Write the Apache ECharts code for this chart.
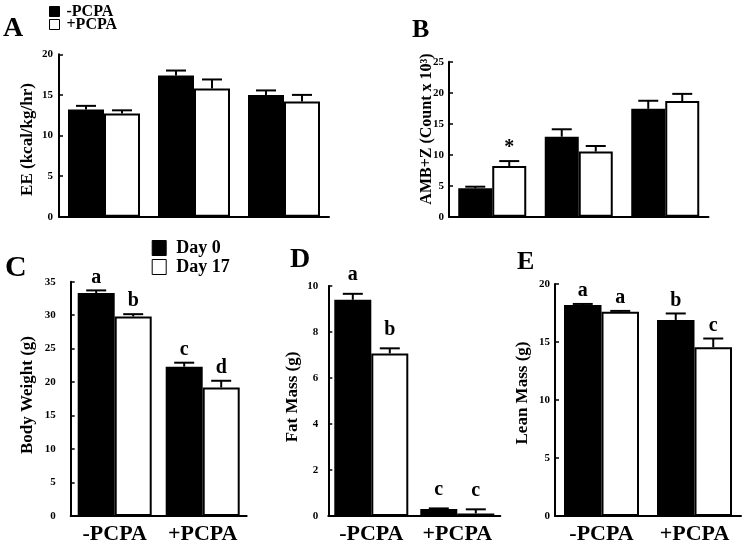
<!DOCTYPE html>
<html>
<head>
<meta charset="utf-8">
<script src="https://cdn.jsdelivr.net/npm/echarts@6/dist/echarts.min.js"></script>
<style>
html,body{margin:0;padding:0;background:#fff;}
#chart{width:745px;height:545px;}
</style>
</head>
<body>
<div id="chart"></div>
<script>
// ---------- data ----------
const groupsAB = ['Group 1', 'Group 2', 'Group 3'];
const seriesAB = ['-PCPA', '+PCPA'];
const groupsCDE = ['-PCPA', '+PCPA'];
const seriesCDE = ['Day 0', 'Day 17'];

// A: EE (kcal/kg/hr)
const eeNeg = [13.2, 17.4, 15.0];
const eePos = [12.7, 15.8, 14.2];
const eeNegErr = [0.45, 0.6, 0.55];
const eePosErr = [0.4, 1.1, 0.8];

// B: AMB+Z (Count x 10^3)
const ambNeg = [4.57, 12.9, 17.4];
const ambPos = [8.17, 10.5, 18.66];
const ambNegErr = [0.27, 1.2, 1.3];
const ambPosErr = [0.8, 0.9, 1.15];
const ambNegMarks = ['', '', ''];
const ambPosMarks = ['*', '', ''];

// C: Body weight (g)
const bwDay0 = [33.3, 22.3];
const bwDay17 = [29.8, 19.2];
const bwDay0Err = [0.4, 0.6];
const bwDay17Err = [0.35, 1.0];
const bwDay0Letters = ['a', 'c'];
const bwDay17Letters = ['b', 'd'];

// D: Fat mass (g)
const fatDay0 = [9.4, 0.3];
const fatDay17 = [7.07, 0.11];
const fatDay0Err = [0.26, 0.03];
const fatDay17Err = [0.22, 0.18];
const fatDay0Letters = ['a', 'c'];
const fatDay17Letters = ['b', 'c'];

// E: Lean mass (g)
const leanDay0 = [18.19, 16.9];
const leanDay17 = [17.6, 14.55];
const leanDay0Err = [0.09, 0.56];
const leanDay17Err = [0.08, 0.75];
const leanDay0Letters = ['a', 'b'];
const leanDay17Letters = ['a', 'c'];

// y-axis settings: [min, max, interval]
const yA = [0, 20, 5];
const yB = [0, 25, 5];
const yC = [0, 35, 5];
const yD = [0, 10, 2];
const yE = [0, 20, 5];

// ---------- helpers ----------
const SERIF = '"Liberation Serif", "DejaVu Serif", serif';

const grids = [
  {left: 59, top: 54.3, width: 270, height: 162.4},
  {left: 449, top: 61.7, width: 259.5, height: 155},
  {left: 70.7, top: 281.7, width: 176, height: 235},
  {left: 328.3, top: 286, width: 172, height: 233.3},
  {left: 555, top: 284, width: 186, height: 236}
];
const barWidths = [36, 34, 37, 37, 37.5];
const letterGaps = [3, 3, 3, 9, 3];
const tickLabelMargins = [6, 5, 15, 10, 5];

function xAxisFor(gi, cats, showLabels) {
  return {
    type: 'category', gridIndex: gi, data: cats,
    axisLine: {lineStyle: {color: '#000', width: 2}},
    axisTick: {show: false},
    axisLabel: {show: showLabels, interval: 0, hideOverlap: false, color: '#000',
      fontFamily: SERIF, fontWeight: 'bold', fontSize: 22, margin: 7}
  };
}
function yAxisFor(gi, cfg) {
  return {
    type: 'value', gridIndex: gi, min: cfg[0], max: cfg[1], interval: cfg[2],
    axisLine: {show: true, lineStyle: {color: '#000', width: 2}},
    axisTick: {show: true, inside: true, length: 4, lineStyle: {color: '#000', width: 1.5}},
    splitLine: {show: false},
    axisLabel: {color: '#000', fontFamily: SERIF, fontWeight: 'bold', fontSize: 11, margin: tickLabelMargins[gi]}
  };
}
function barSeries(gi, name, values, fill) {
  return {
    type: 'bar', name: name, xAxisIndex: gi, yAxisIndex: gi, data: values,
    barWidth: barWidths[gi], barGap: '0%',
    itemStyle: {color: fill, borderColor: '#000', borderWidth: 2},
    emphasis: {disabled: true}, animation: false
  };
}
function errSeries(gi, values, errs, marks, side) {
  const bw = barWidths[gi];
  const gap = letterGaps[gi];
  return {
    type: 'custom', xAxisIndex: gi, yAxisIndex: gi,
    data: values.map((v, i) => [i, v, errs[i]]),
    encode: {x: 0, y: 1},
    silent: true, animation: false, z: 5,
    renderItem: function (params, api) {
      const i = api.value(0), v = api.value(1), e = api.value(2);
      const p0 = api.coord([i, v]);
      const p1 = api.coord([i, v + e]);
      const x = p0[0] + side * bw / 2;
      const cap = 20;
      const children = [
        {type: 'line', shape: {x1: x, y1: p0[1], x2: x, y2: p1[1]}, style: {stroke: '#000', lineWidth: 2}},
        {type: 'line', shape: {x1: x - cap / 2, y1: p1[1], x2: x + cap / 2, y2: p1[1]}, style: {stroke: '#000', lineWidth: 2}}
      ];
      const m = marks ? marks[params.dataIndex] : '';
      if (m) {
        children.push({type: 'text', x: x, y: p1[1] - gap,
          style: {text: m, fill: '#000', font: 'bold 20px ' + SERIF, align: 'center', verticalAlign: 'bottom'}});
      }
      return {type: 'group', children: children};
    }
  };
}
function label(text, x, y, size, rot) {
  return {type: 'text', x: x, y: y, rotation: rot || 0, silent: true,
    style: {text: text, fill: '#000', font: 'bold ' + size + 'px ' + SERIF,
      align: rot ? 'center' : 'left', verticalAlign: 'middle'}};
}

const option = {
  backgroundColor: '#fff',
  animation: false,
  grid: grids,
  xAxis: [
    xAxisFor(0, groupsAB, false),
    xAxisFor(1, groupsAB, false),
    xAxisFor(2, groupsCDE, true),
    xAxisFor(3, groupsCDE, true),
    xAxisFor(4, groupsCDE, true)
  ],
  yAxis: [yAxisFor(0, yA), yAxisFor(1, yB), yAxisFor(2, yC), yAxisFor(3, yD), yAxisFor(4, yE)],
  legend: [
    {data: seriesAB, orient: 'vertical', left: 49, top: 3.5, padding: 0, itemWidth: 10, itemHeight: 10, itemGap: -3,
     selectedMode: false, icon: 'rect',
     itemStyle: {borderColor: '#000', borderWidth: 1},
     textStyle: {color: '#000', fontFamily: SERIF, fontWeight: 'bold', fontSize: 16, padding: [0, 0, 0, 2]}},
    {data: seriesCDE, orient: 'vertical', left: 151.7, top: 239, padding: 0, itemWidth: 14, itemHeight: 15, itemGap: 1,
     selectedMode: false, icon: 'rect',
     itemStyle: {borderColor: '#000', borderWidth: 1},
     textStyle: {color: '#000', fontFamily: SERIF, fontWeight: 'bold', fontSize: 18, padding: [0, 0, 0, 5]}}
  ],
  graphic: [
    label('A', 3, 29, 28),
    label('B', 412, 30, 26),
    label('C', 5, 268, 30),
    label('D', 290, 260, 28),
    label('E', 517, 262, 26),
    label('EE (kcal/kg/hr)', 28, 139.5, 17, Math.PI / 2),
    label('AMB+Z (Count x 10³)', 427, 129, 16, Math.PI / 2),
    label('Body Weight (g)', 28, 395, 17, Math.PI / 2),
    label('Fat Mass (g)', 293, 397, 17, Math.PI / 2),
    label('Lean Mass (g)', 523, 393, 17, Math.PI / 2)
  ],
  series: [
    barSeries(0, seriesAB[0], eeNeg, '#000'),
    barSeries(0, seriesAB[1], eePos, '#fff'),
    errSeries(0, eeNeg, eeNegErr, null, -1),
    errSeries(0, eePos, eePosErr, null, 1),

    barSeries(1, seriesAB[0], ambNeg, '#000'),
    barSeries(1, seriesAB[1], ambPos, '#fff'),
    errSeries(1, ambNeg, ambNegErr, ambNegMarks, -1),
    errSeries(1, ambPos, ambPosErr, ambPosMarks, 1),

    barSeries(2, seriesCDE[0], bwDay0, '#000'),
    barSeries(2, seriesCDE[1], bwDay17, '#fff'),
    errSeries(2, bwDay0, bwDay0Err, bwDay0Letters, -1),
    errSeries(2, bwDay17, bwDay17Err, bwDay17Letters, 1),

    barSeries(3, seriesCDE[0], fatDay0, '#000'),
    barSeries(3, seriesCDE[1], fatDay17, '#fff'),
    errSeries(3, fatDay0, fatDay0Err, fatDay0Letters, -1),
    errSeries(3, fatDay17, fatDay17Err, fatDay17Letters, 1),

    barSeries(4, seriesCDE[0], leanDay0, '#000'),
    barSeries(4, seriesCDE[1], leanDay17, '#fff'),
    errSeries(4, leanDay0, leanDay0Err, leanDay0Letters, -1),
    errSeries(4, leanDay17, leanDay17Err, leanDay17Letters, 1)
  ]
};

const chart = echarts.init(document.getElementById('chart'), null, {renderer: 'canvas'});
chart.setOption(option);
</script>
</body>
</html>
